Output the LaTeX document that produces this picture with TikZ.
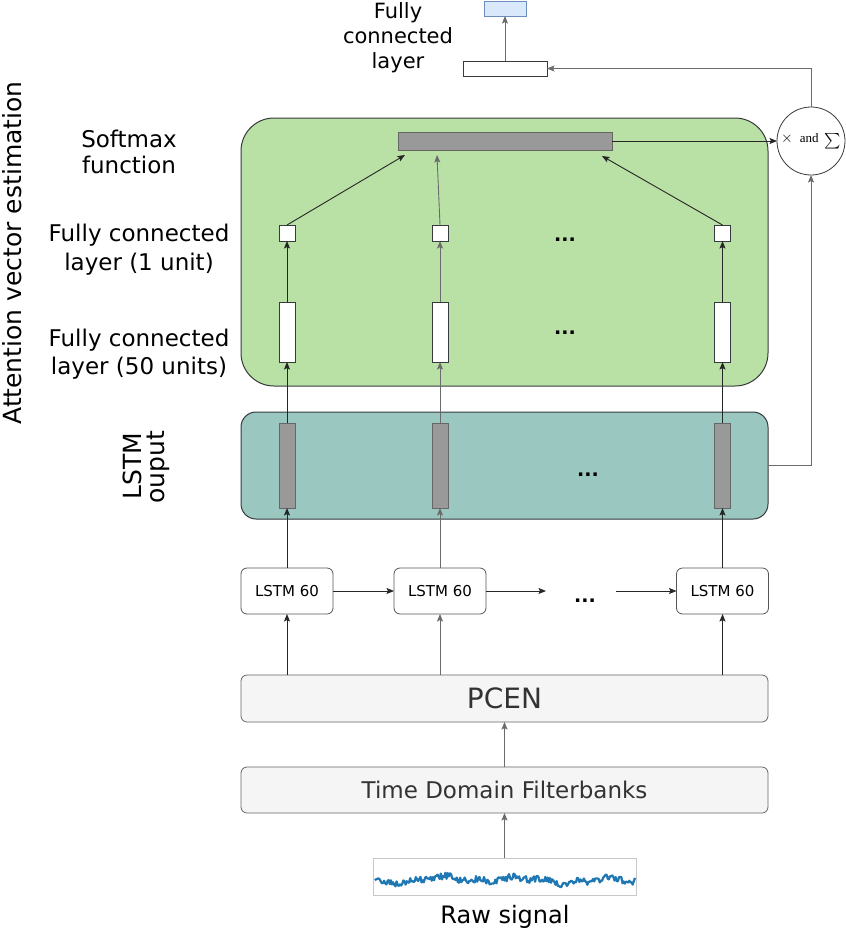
\documentclass[tikz,border=0pt]{standalone}
\usepackage{fontspec}
\setmainfont{DejaVu Sans}
\newfontfamily\timesf{Liberation Serif}
\usetikzlibrary{arrows.meta,calc}
\definecolor{greenfill}{HTML}{B9E0A5}
\definecolor{tealfill}{HTML}{9AC7BF}
\definecolor{darkstroke}{HTML}{36393D}
\definecolor{barfill}{HTML}{999999}
\definecolor{barstroke}{HTML}{666666}
\definecolor{boxfill}{HTML}{F5F5F5}
\definecolor{boxtext}{HTML}{333333}
\definecolor{bluefill}{HTML}{DAE8FC}
\definecolor{bluestroke}{HTML}{6C8EBF}
\definecolor{sigblue}{HTML}{1F77B4}
\definecolor{lightframe}{HTML}{C8C8C8}
\definecolor{grayline}{HTML}{6B6B6B}
\definecolor{lstmstroke}{HTML}{555555}
\begin{document}
\begin{tikzpicture}[x=1pt,y=-1pt,
  region/.style={draw=darkstroke, line width=1pt, inner sep=0pt, outer sep=0pt, minimum width=527pt},
  grayvbar/.style={draw=barstroke, fill=barfill, line width=1pt, minimum width=16pt, minimum height=85pt, inner sep=0pt, outer sep=0pt},
  whitebar/.style={draw=darkstroke, fill=white, line width=0.8pt, minimum width=16pt, inner sep=0pt, outer sep=0pt},
  lstmbox/.style={draw=lstmstroke, fill=white, line width=0.8pt, rounded corners=6pt, minimum width=92pt, minimum height=46pt, font=\fontsize{15}{18}\selectfont, inner sep=0pt, outer sep=0pt},
  procbox/.style={draw=barstroke, fill=boxfill, line width=0.8pt, rounded corners=6pt, minimum width=527pt, text=boxtext, inner sep=0pt, outer sep=0pt},
  arr/.style={-{Stealth[length=7.5pt,width=6pt,inset=1.5pt]}, line width=0.9pt, draw=black!85},
  arrg/.style={arr, draw=grayline},
  lbl/.style={font=\fontsize{23}{28}\selectfont, anchor=base, inner sep=0pt},
  dots/.style={font=\fontsize{19}{22}\selectfont\bfseries, anchor=base, inner sep=0pt}
]
\useasboundingbox (0,0) rectangle (846,930);

% regions
\node[region, fill=greenfill, rounded corners=33pt, minimum height=268pt] (green) at (504.5,252) {};
\node[region, fill=tealfill, rounded corners=15pt, minimum height=107pt] (teal) at (504.5,465.5) {};

% columns
\foreach \i/\c in {1/287,2/440,3/722.5}{
  \node[grayvbar] (lo\i) at (\c,465.5) {};
  \node[whitebar, minimum height=60pt] (fcb\i) at (\c,332) {};
  \node[whitebar, minimum height=16pt] (fcs\i) at (\c,233) {};
  \node[lstmbox] (lstm\i) at (\c,591) {LSTM 60};
}

% softmax bar
\node[draw=barstroke, fill=barfill, line width=1pt, minimum width=214pt, minimum height=18pt, inner sep=0pt, outer sep=0pt] (sm) at (505,141) {};

% weighted sum circle
\node[circle, draw=darkstroke, fill=white, minimum size=68pt, inner sep=0pt, outer sep=0pt, line width=0.8pt] (circ) at (811,141)
  {\fontsize{13}{15}\selectfont\scalebox{1.25}{$\times$}\hspace{7pt}{\timesf and}\hspace{6pt}\raisebox{-3pt}{\scalebox{1.55}{$\textstyle\sum$}}};

% top layers
\node[draw=darkstroke, fill=white, minimum width=84pt, minimum height=15pt, inner sep=0pt, outer sep=0pt, line width=0.8pt] (fctop) at (505,68.5) {};
\node[draw=bluestroke, fill=bluefill, minimum width=42pt, minimum height=15pt, inner sep=0pt, outer sep=0pt, line width=0.8pt] (out) at (505,8.5) {};

% front end
\node[procbox, minimum height=47pt, font=\fontsize{28}{32}\selectfont] (pcen) at (504.5,698.5) {PCEN};
\node[procbox, minimum height=46pt, font=\fontsize{23}{27}\selectfont] (tdf) at (504.5,790) {Time Domain Filterbanks};
\node[draw=lightframe, fill=white, minimum width=263pt, minimum height=37pt, inner sep=0pt, outer sep=0pt, line width=0.8pt] (raw) at (504.5,876.5) {};
\begin{scope}
  \clip (raw.south west) rectangle (raw.north east);
  \pgfmathsetseed{11}
  \draw[sigblue, line width=2.2pt, line join=round] plot[domain=375:635, samples=230]
    (\x, {880 - 2.0*sin(4.3*\x) + 1.4*sin(11*\x+40) - 1.2*sin(1.7*\x) + 3.4*rand});
\end{scope}

% connectors
\draw[arrg] (raw.north) -- (tdf.south);
\draw[arrg] (tdf.north) -- (pcen.south);
\foreach \i/\s in {1/arr,2/arrg,3/arr}{
  \draw[\s] (pcen.north -| lstm\i.south) -- (lstm\i.south);
  \draw[\s] (lstm\i.north) -- (lo\i.south);
  \draw[\s] (lo\i.north) -- (fcb\i.south);
  \draw[\s] (fcb\i.north) -- (fcs\i.south);
}
\coordinate (gapL) at (546,591);
\coordinate (gapR) at (616,591);
\draw[arr] (lstm1.east) -- (lstm2.west);
\draw[arr] (lstm2.east) -- (gapL);
\draw[arr] (gapR) -- (lstm3.west);

\draw[arr] (fcs1.north) -- ([xshift=7pt,yshift=-5pt]sm.south west);
\draw[arrg] (fcs2.north) -- ([xshift=39pt,yshift=-5pt]sm.south west);
\draw[arr] (fcs3.north) -- ([xshift=-10pt,yshift=-6pt]sm.south east);

\draw[arr] (sm.east) -- (circ.west);
\draw[arrg] (teal.east) -| (circ.south);
\draw[arrg] (circ.north) |- (fctop.east);
\draw[arrg] (fctop.north) -- (out.south);

% ellipses
\node[dots] (d1) at (565,241) {...};
\node[dots] (d2) at (565,334) {...};
\node[dots] (d3) at (588,476) {...};
\node[dots] (d4) at (585,602) {...};

% labels
\node[lbl] (sm1) at (129,147) {Softmax};
\node[lbl] (sm2) at (129,173) {function};
\node[lbl] (f1a) at (139,241) {Fully connected};
\node[lbl] (f1b) at (139,270) {layer (1 unit)};
\node[lbl] (f50a) at (139,346) {Fully connected};
\node[lbl] (f50b) at (139,374) {layer (50 units)};
\node[lbl, font=\fontsize{21}{25}\selectfont] (t1) at (398,18) {Fully};
\node[lbl, font=\fontsize{21}{25}\selectfont] (t2) at (398,43) {connected};
\node[lbl, font=\fontsize{21}{25}\selectfont] (t3) at (398,68) {layer};
\node[lbl, font=\fontsize{25}{30}\selectfont, rotate=90] (att) at (21,253) {Attention vector estimation};
\node[lbl, font=\fontsize{25}{30}\selectfont, rotate=90] (lout1) at (141,466) {LSTM};
\node[lbl, font=\fontsize{25}{30}\selectfont, rotate=90] (lout2) at (164,467) {ouput};
\node[lbl, font=\fontsize{24}{28}\selectfont] (rawlbl) at (505,923) {Raw signal};
\end{tikzpicture}
\end{document}
